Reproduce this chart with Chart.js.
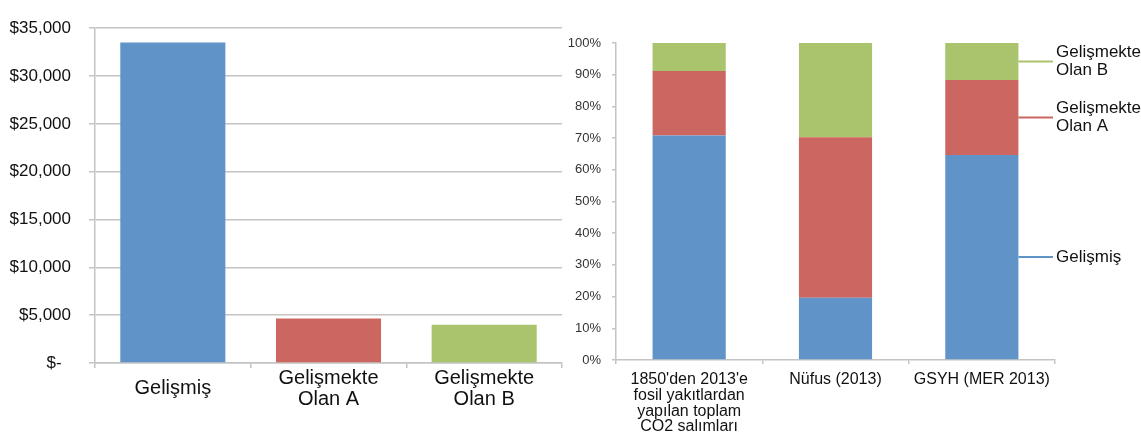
<!DOCTYPE html>
<html>
<head>
<meta charset="utf-8">
<script src="https://cdn.jsdelivr.net/npm/chart.js@4/dist/chart.umd.min.js"></script>
<style>
  html, body { margin: 0; padding: 0; background: #fff; }
  #wrap { position: relative; width: 1141px; height: 437px; }
  #leftBox { position: absolute; left: 0; top: 0; width: 565px; height: 437px; }
  #rightBox { position: absolute; left: 565px; top: 0; width: 576px; height: 437px; }
</style>
</head>
<body>
<div id="wrap">
  <div id="leftBox"><canvas id="incomeChart"></canvas></div>
  <div id="rightBox"><canvas id="shareChart"></canvas></div>
</div>
<script>
// groups (left chart categories, right chart series)
const groupNames = [['Gelişmiş'], ['Gelişmekte', 'Olan A'], ['Gelişmekte', 'Olan B']];
const groupColors = ['#6094c9', '#cc6660', '#a9c46c'];

// left: income per person (USD)
const incomeValues = [33500, 4650, 4000];
const incomeTicks = [0, 5000, 10000, 15000, 20000, 25000, 30000, 35000];

// right: shares (%)
const shareCategories = [
    ["1850'den 2013'e", 'fosil yakıtlardan', 'yapılan toplam', 'CO2 salımları'],
    ['Nüfus (2013)'],
    ['GSYH (MER 2013)']
];
const developedShare = [70.8, 19.6, 64.7];
const developingAShare = [20.4, 50.7, 23.6];
const developingBShare = [8.8, 29.7, 11.7];

const fontFamily = "'Liberation Sans', Arial, sans-serif";
const axisGray = '#c4c4c4';

function moneyLabel(v) {
    if (v === 0) return '$-  ';
    return '$' + v.toLocaleString('en-US');
}

// left chart
new Chart(document.getElementById('incomeChart'), {
    type: 'bar',
    data: {
        labels: groupNames,
        datasets: [{
            data: incomeValues,
            backgroundColor: groupColors,
            borderWidth: 0,
            categoryPercentage: 0.675,
            barPercentage: 1
        }]
    },
    options: {
        responsive: true,
        maintainAspectRatio: false,
        animation: false,
        layout: { padding: { top: 13, right: 3, left: 0, bottom: 0 } },
        plugins: { legend: { display: false }, tooltip: { enabled: false } },
        scales: {
            x: {
                grid: { drawOnChartArea: false, tickLength: 5, color: axisGray, lineWidth: 1.5 },
                border: { color: axisGray, width: 1.5 },
                ticks: {
                    color: '#111',
                    font: { family: fontFamily, size: 20, lineHeight: 1.05 },
                    crossAlign: 'center',
                    padding: 10,
                    maxRotation: 0
                },
                afterFit: s => { s.height = 74; }
            },
            y: {
                min: 0,
                max: 35000,
                afterBuildTicks: s => { s.ticks = incomeTicks.map(v => ({ value: v })); },
                grid: { color: axisGray, lineWidth: 1.5, tickLength: 6 },
                border: { color: axisGray, width: 1.5 },
                ticks: {
                    color: '#111',
                    font: { family: fontFamily, size: 17 },
                    padding: 18,
                    callback: v => moneyLabel(v)
                },
                afterFit: s => { s.width = 95; }
            }
        }
    }
});

// series names drawn beside the last bar, with a short leader line
const seriesLabels = {
    id: 'seriesLabels',
    afterDatasetsDraw(chart) {
        const ctx = chart.ctx;
        const area = chart.chartArea;
        ctx.save();
        ctx.font = '17px ' + fontFamily;
        ctx.textBaseline = 'middle';
        ctx.textAlign = 'left';
        chart.data.datasets.forEach((ds, i) => {
            const meta = chart.getDatasetMeta(i);
            const el = meta.data[meta.data.length - 1];
            const yMid = (el.y + el.base) / 2;
            ctx.strokeStyle = ds.backgroundColor;
            ctx.lineWidth = 2;
            ctx.beginPath();
            ctx.moveTo(el.x + el.width / 2, yMid);
            ctx.lineTo(area.right - 2, yMid);
            ctx.stroke();
            ctx.fillStyle = '#111';
            const lines = groupNames[i];
            const lh = 18;
            lines.forEach((t, k) => {
                ctx.fillText(t, area.right + 1, yMid + (k - (lines.length - 1) / 2) * lh);
            });
        });
        ctx.restore();
    }
};

// right chart
new Chart(document.getElementById('shareChart'), {
    type: 'bar',
    data: {
        labels: shareCategories,
        datasets: [developedShare, developingAShare, developingBShare].map((vals, i) => ({
            label: groupNames[i].join(' '),
            data: vals,
            backgroundColor: groupColors[i],
            borderWidth: 0,
            categoryPercentage: 0.5,
            barPercentage: 1
        }))
    },
    options: {
        responsive: true,
        maintainAspectRatio: false,
        animation: false,
        layout: { padding: { top: 43, right: 86, left: 0, bottom: 0 } },
        plugins: { legend: { display: false }, tooltip: { enabled: false } },
        scales: {
            x: {
                stacked: true,
                grid: { drawOnChartArea: false, tickLength: 4, color: axisGray, lineWidth: 1.5 },
                border: { color: axisGray, width: 1.5 },
                ticks: {
                    color: '#111',
                    font: { family: fontFamily, size: 16, lineHeight: 0.98 },
                    padding: 8,
                    maxRotation: 0
                },
                afterFit: s => { s.height = 77; }
            },
            y: {
                stacked: true,
                min: 0,
                max: 100,
                ticks: {
                    stepSize: 10,
                    color: '#333',
                    font: { family: fontFamily, size: 13 },
                    padding: 11,
                    callback: v => v + '%'
                },
                grid: { drawOnChartArea: false, tickLength: 4, color: axisGray, lineWidth: 1.5 },
                border: { color: axisGray, width: 1.5 },
                afterFit: s => { s.width = 51; }
            }
        }
    },
    plugins: [seriesLabels]
});
</script>
</body>
</html>
